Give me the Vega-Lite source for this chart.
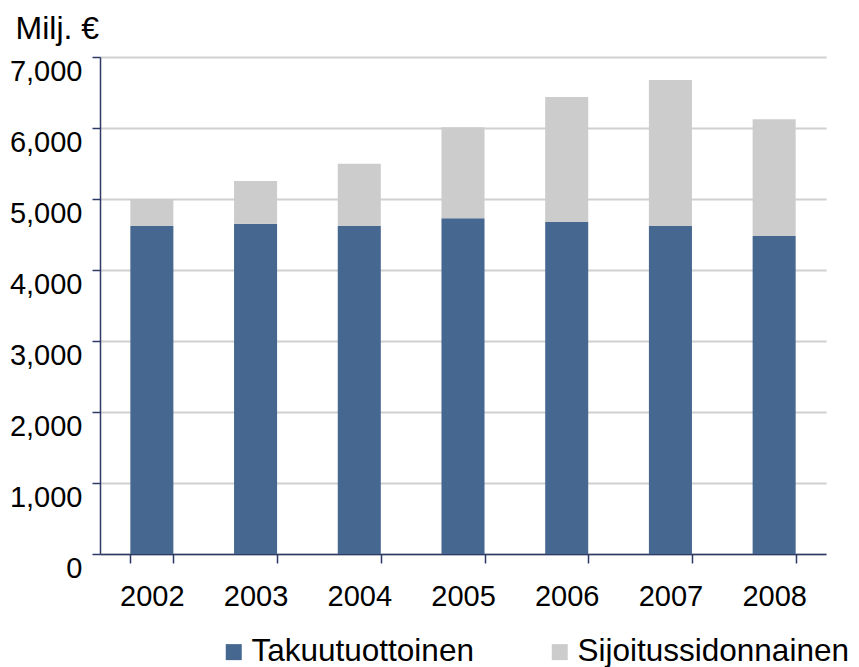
{
  "$schema": "https://vega.github.io/schema/vega-lite/v6.json",
  "autosize": {"type": "none"},
  "width": 726,
  "height": 497,
  "padding": {"left": 100, "top": 57, "right": 33, "bottom": 113},
  "background": "white",
  "data": {
    "values": [
      {"year": "2002", "series": "Takuutuottoinen", "value": 4620},
      {"year": "2002", "series": "Sijoitussidonnainen", "value": 380},
      {"year": "2003", "series": "Takuutuottoinen", "value": 4650},
      {"year": "2003", "series": "Sijoitussidonnainen", "value": 605},
      {"year": "2004", "series": "Takuutuottoinen", "value": 4620},
      {"year": "2004", "series": "Sijoitussidonnainen", "value": 875},
      {"year": "2005", "series": "Takuutuottoinen", "value": 4730},
      {"year": "2005", "series": "Sijoitussidonnainen", "value": 1280},
      {"year": "2006", "series": "Takuutuottoinen", "value": 4675},
      {"year": "2006", "series": "Sijoitussidonnainen", "value": 1760},
      {"year": "2007", "series": "Takuutuottoinen", "value": 4620},
      {"year": "2007", "series": "Sijoitussidonnainen", "value": 2055},
      {"year": "2008", "series": "Takuutuottoinen", "value": 4480},
      {"year": "2008", "series": "Sijoitussidonnainen", "value": 1645}
    ]
  },
  "mark": {"type": "bar"},
  "encoding": {
    "x": {
      "field": "year",
      "type": "nominal",
      "scale": {"paddingInner": 0.585, "paddingOuter": 0.2925},
      "axis": {
        "title": null,
        "labelAngle": 0,
        "labelFont": "Liberation Sans",
        "labelFontSize": 29,
        "labelColor": "#000000",
        "labelPadding": 19,
        "tickBand": "extent",
        "tickSize": 9,
        "tickColor": "#2E3A66",
        "tickWidth": 1.5,
        "domainColor": "#2E3A66",
        "domainWidth": 1.5,
        "grid": false
      }
    },
    "y": {
      "field": "value",
      "type": "quantitative",
      "stack": "zero",
      "scale": {"domain": [0, 7000], "nice": false},
      "axis": {
        "title": "Milj. €",
        "titleAngle": 0,
        "titleAlign": "left",
        "titleBaseline": "alphabetic",
        "titleX": -85,
        "titleY": -19,
        "titleFont": "Liberation Sans",
        "titleFontSize": 32,
        "titleFontWeight": "normal",
        "titleColor": "#000000",
        "values": [0, 1000, 2000, 3000, 4000, 5000, 6000, 7000],
        "format": ",d",
        "labelFont": "Liberation Sans",
        "labelFontSize": 29,
        "labelColor": "#000000",
        "labelPadding": 10,
        "labelOffset": 14,
        "tickSize": 8,
        "tickColor": "#2E3A66",
        "tickWidth": 1.5,
        "domainColor": "#2E3A66",
        "domainWidth": 1.5,
        "grid": true,
        "gridColor": "#D0D0D0",
        "gridWidth": 2
      }
    },
    "color": {
      "field": "series",
      "type": "nominal",
      "sort": ["Takuutuottoinen", "Sijoitussidonnainen"],
      "scale": {
        "domain": ["Takuutuottoinen", "Sijoitussidonnainen"],
        "range": ["#466790", "#CCCCCC"]
      },
      "legend": {
        "title": null,
        "orient": "none",
        "direction": "horizontal",
        "legendX": 118,
        "legendY": 579,
        "symbolType": "square",
        "symbolSize": 256,
        "symbolStrokeWidth": 0,
        "labelFont": "Liberation Sans",
        "labelFontSize": 31.5,
        "labelLimit": 500,
        "labelColor": "#000000",
        "labelOffset": 2,
        "columnPadding": 70
      }
    },
    "order": {"field": "series", "sort": "descending"}
  },
  "config": {
    "view": {"stroke": null}
  }
}
